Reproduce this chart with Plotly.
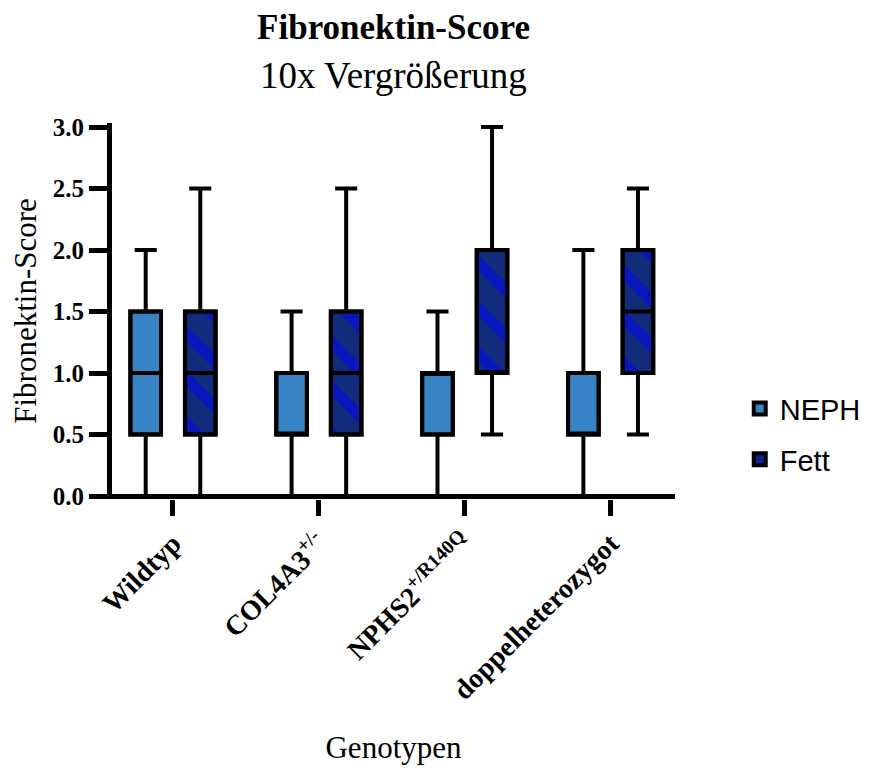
import numpy as np
import plotly.graph_objects as go

# ---- data ----
genotypes = ["Wildtyp", "COL4A3<sup>+/-</sup>", "NPHS2<sup>+/R140Q</sup>", "doppelheterozygot"]
series_names = ["NEPH", "Fett"]

neph_min = [0.0, 0.0, 0.0, 0.0]
neph_q1 = [0.5, 0.5, 0.5, 0.5]
neph_med = [1.0, 0.5, 1.0, 0.5]
neph_q3 = [1.5, 1.0, 1.0, 1.0]
neph_max = [2.0, 1.5, 1.5, 2.0]

fett_min = [0.0, 0.0, 0.5, 0.5]
fett_q1 = [0.5, 0.5, 1.0, 1.0]
fett_med = [1.0, 1.0, 1.0, 1.5]
fett_q3 = [1.5, 1.5, 2.0, 2.0]
fett_max = [2.5, 2.5, 3.0, 2.5]

y_ticks = [0.0, 0.5, 1.0, 1.5, 2.0, 2.5, 3.0]

# ---- style ----
NEPH_COLOR = "#3783C3"
FETT_BG = "#102C7A"
FETT_FG = "#0000FF"
SERIF = "Liberation Serif"
SANS = "Liberation Sans"
BOX_W = 0.21
OFFSET = 0.187

cat_idx = np.arange(len(genotypes))
pos_neph = cat_idx - OFFSET
pos_fett = cat_idx + OFFSET

fig = go.Figure()

# filled boxes (bars from q1 to q3)
fig.add_trace(go.Bar(
    x=pos_neph, base=neph_q1, y=np.array(neph_q3) - np.array(neph_q1),
    width=BOX_W, name=series_names[0], legendgroup="a",
    marker=dict(color=NEPH_COLOR, line=dict(color="black", width=4)),
    hoverinfo="skip",
))
fig.add_trace(go.Bar(
    x=pos_fett, base=fett_q1, y=np.array(fett_q3) - np.array(fett_q1),
    width=BOX_W, name=series_names[1], legendgroup="b",
    marker=dict(color=FETT_BG, line=dict(color="black", width=4),
                pattern=dict(shape="\\", fgcolor=FETT_FG, bgcolor=FETT_BG,
                             size=32, solidity=0.35, fillmode="overlay")),
    hoverinfo="skip",
))

# box outlines, medians and whiskers
for pos, lo, q1, med, q3, hi in [
    (pos_neph, neph_min, neph_q1, neph_med, neph_q3, neph_max),
    (pos_fett, fett_min, fett_q1, fett_med, fett_q3, fett_max),
]:
    fig.add_trace(go.Box(
        x=pos, q1=q1, median=med, q3=q3, lowerfence=lo, upperfence=hi,
        width=BOX_W, whiskerwidth=0.72, fillcolor="rgba(0,0,0,0)",
        line=dict(color="black", width=4), boxpoints=False,
        showlegend=False, hoverinfo="skip",
    ))

PLOT_TOP = 115
PLOT_H = 376

fig.update_layout(
    width=870, height=769,
    paper_bgcolor="white", plot_bgcolor="white",
    margin=dict(l=104, r=189, t=PLOT_TOP, b=769 - PLOT_TOP - PLOT_H),
    barmode="overlay",
    title=dict(text="<b>Fibronektin-Score</b>", x=0.5, xref="paper",
               y=1 - 19 / 769, yanchor="middle", xanchor="center",
               font=dict(family=SERIF, size=35, color="black")),
    annotations=[dict(text="10x Vergrößerung", xref="paper", yref="paper",
                      x=0.5, y=(PLOT_TOP + PLOT_H - 67) / PLOT_H,
                      xanchor="center", yanchor="middle",
                      showarrow=False, font=dict(family=SERIF, size=37, color="black"))],
    legend=dict(x=1.115, xanchor="left", y=0.308, yanchor="top",
                font=dict(family=SANS, size=29, color="black"),
                tracegroupgap=10, bgcolor="rgba(0,0,0,0)"),
    showlegend=True,
)

fig.update_xaxes(
    range=[-0.418, 3.441], tickmode="array", tickvals=cat_idx, ticktext=genotypes,
    tickangle=-45, ticks="outside", ticklen=16, tickwidth=5, tickcolor="black",
    showline=False, showgrid=False, zeroline=False,
    tickfont=dict(family=SERIF, size=28, color="black", weight="bold"),
    title=dict(text="Genotypen", standoff=31,
               font=dict(family=SERIF, size=31, color="black")),
)
fig.update_yaxes(
    range=[-0.0244, 3.0325], tickmode="array", tickvals=y_ticks, tickformat=".1f",
    ticks="outside", ticklen=18, tickwidth=5, tickcolor="black",
    showline=True, linewidth=5, linecolor="black", showgrid=False,
    zeroline=True, zerolinecolor="black", zerolinewidth=5,
    tickfont=dict(family=SERIF, size=25, color="black", weight="bold"),
    title=dict(text="Fibronektin-Score", standoff=10,
               font=dict(family=SERIF, size=31, color="black")),
)

fig.write_html("out.html")
